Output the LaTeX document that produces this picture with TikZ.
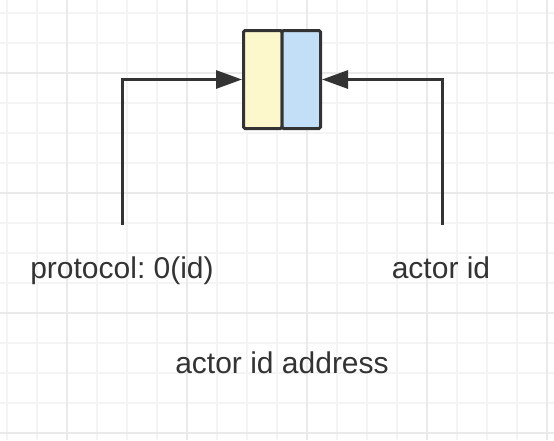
\documentclass[tikz,border=0pt]{standalone}
\usepackage{fontspec}
\setmainfont{Liberation Sans}
\usepackage{tikz}
\usetikzlibrary{shapes,arrows.meta}

\definecolor{ink}{HTML}{333333}
\definecolor{gridminor}{HTML}{F4F4F4}
\definecolor{gridmajor}{HTML}{EAEAEA}
\definecolor{cellyellow}{HTML}{FCF8CC}
\definecolor{cellblue}{HTML}{C3DEF7}
\frenchspacing

\begin{document}
\begin{tikzpicture}[x=1pt,y=-1pt,
	cell/.style={rectangle,draw=ink,line width=3pt,minimum width=38.5pt,minimum height=98pt,inner sep=0pt,rounded corners=1.5pt},
	lbl/.style={anchor=base,text=ink,font=\fontsize{30}{36}\selectfont},
	wire/.style={draw=ink,line width=3pt,-{Triangle[length=26pt,width=18pt]}}]

		% background and grid
		\useasboundingbox[fill=white] (0,0) rectangle (554,440);
		\foreach \x in {7,37,...,547} \draw[gridminor,line width=2pt] (\x,0) -- (\x,440);
		\foreach \y in {13,43,...,433} \draw[gridminor,line width=2pt] (0,\y) -- (554,\y);
		\foreach \x in {67,187,...,547} \draw[gridmajor,line width=2pt] (\x,0) -- (\x,440);
		\foreach \y in {73,193,...,433} \draw[gridmajor,line width=2pt] (0,\y) -- (554,\y);

		\node[cell,fill=cellyellow] (yel) at (262.75,79.5) {};
		\node[cell,fill=cellblue] (blu) at (301.25,79.5) {};

		\node[lbl] (proto) at (122,278) {protocol: 0(id)};
		\node[lbl] (actor) at (441,278) {actor id};
		\node[lbl] (addr) at (282,373) {actor id address};

		\coordinate (protoend) at (122,225);
		\coordinate (actorend) at (442,225);

		\draw[wire] (protoend) |- (yel);
		\draw[wire] (actorend) |- (blu);

	\end{tikzpicture}
\end{document}
